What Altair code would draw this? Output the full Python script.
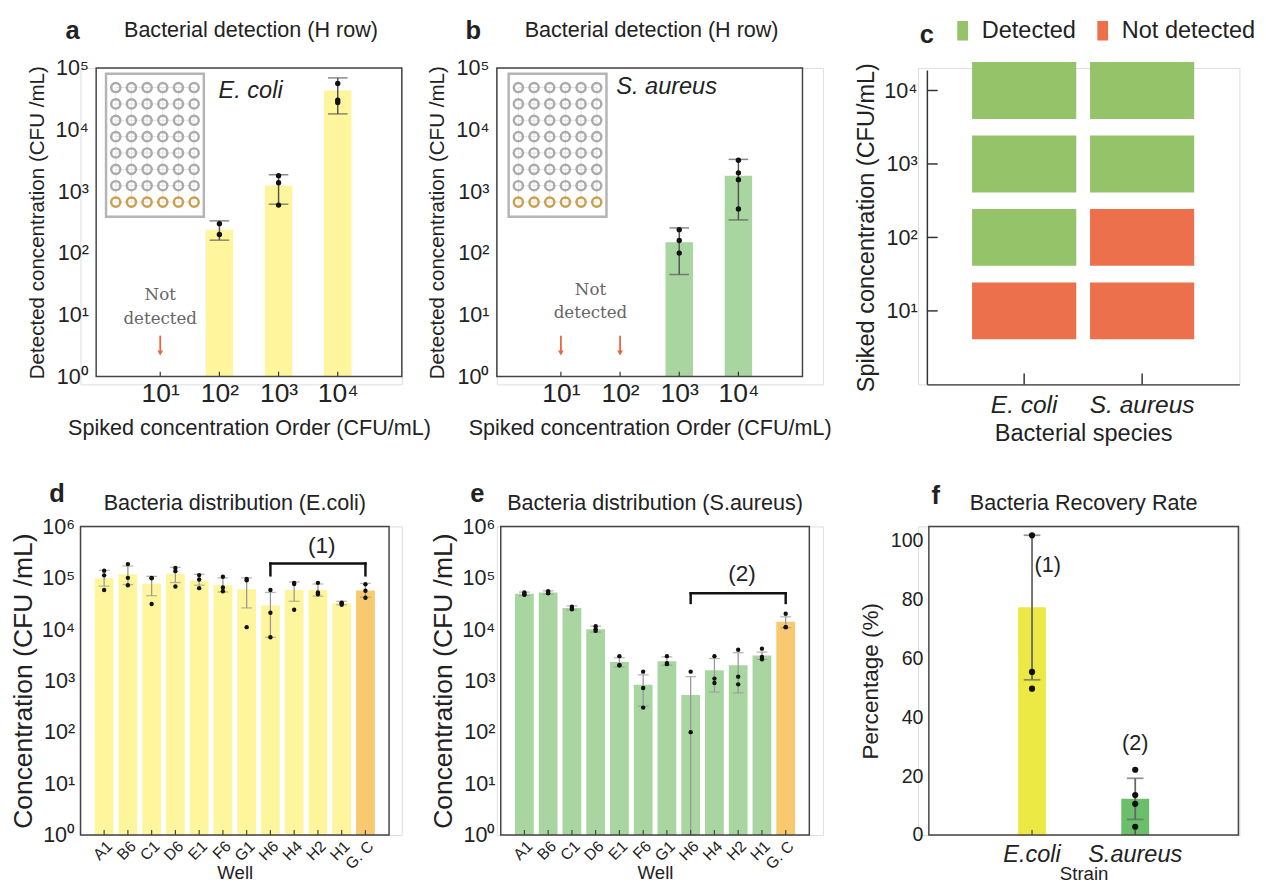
import altair as alt
import pandas as pd

SANS = "Liberation Sans"
SERIF = "DejaVu Serif"
INK = "#222222"
FRAME = "#444444"
SUPS = "['⁰','¹','²','³','⁴','⁵','⁶']"
LOG_LABEL = "'10' + " + SUPS + "[round(log(datum.value) / LN10)]"
EXP_LABEL = "'10' + " + SUPS + "[round(datum.value)]"

# ---------------- data: panels a / b ----------------
orders = [1, 2, 3, 4]
a_mean = [None, 240, 1250, 43000]
a_lo = [None, 162, 620, 18000]
a_hi = [None, 333, 1860, 69000]
a_pts_order = [2, 2, 3, 3, 3, 4, 4, 4]
a_pts_val = [300, 200, 1800, 1380, 600, 56000, 30000, 27500]
a_missing = [1]

b_mean = [None, None, 150, 1800]
b_lo = [None, None, 45, 345]
b_hi = [None, None, 256, 3300]
b_pts_order = [3, 3, 3, 4, 4, 4, 4]
b_pts_val = [240, 160, 100, 3200, 2000, 1550, 520]
b_missing = [1, 2]

# ---------------- data: panel c ----------------
species = ["E. coli", "S. aureus"]
status_levels = ["Detected", "Not detected"]
c_status_ecoli = ["Not detected", "Detected", "Detected", "Detected"]
c_status_saureus = ["Not detected", "Not detected", "Detected", "Detected"]

# ---------------- data: panels d / e ----------------
wells = ["A1", "B6", "C1", "D6", "E1", "F6", "G1", "H6", "H4", "H2", "H1", "G. C"]
well_kind = ["well"] * 11 + ["control"]
d_mean = [98000, 117000, 77000, 119000, 88000, 72000, 60000, 29000, 58000, 58000, 32000, 57000]
d_lo = [69000, 74000, 45000, 81000, 72000, 53000, 26000, 7000, 35000, 44000, 30000, 42000]
d_hi = [140000, 170000, 107000, 160000, 117000, 100000, 100000, 52000, 83000, 76000, 35000, 78000]
d_pts = [[138000, 112000, 58000], [185000, 100000, 72000], [100000, 98000, 31000],
         [155000, 135000, 68000], [113000, 93000, 63000], [105000, 65000, 55000],
         [95000, 90000, 11000], [58000, 21000, 7000], [80000, 76000, 24000],
         [80000, 52000, 48000], [33000, 32000, 30000], [75000, 56000, 41000]]

e_mean = [49000, 52000, 26000, 10000, 2300, 830, 2400, 530, 1600, 2000, 3100, 14000]
e_lo = [45000, 48000, 23500, 8800, 1850, 320, 2000, 1, 600, 580, 2600, 10700]
e_hi = [53000, 56000, 28500, 11500, 2800, 1300, 2900, 1200, 2700, 3500, 3600, 17500]
e_pts = [[52000, 48000, 47000], [55000, 51000, 50000], [27500, 26000, 24500],
         [11500, 10000, 9300], [3000, 2000, 2000], [1500, 720, 300],
         [3000, 2200, 2100], [1500, 100], [3000, 1100, 900],
         [4000, 1200, 850], [4200, 2900, 2600], [20000, 11000, 11000]]

# ---------------- data: panel f ----------------
strains = ["E.coli", "S.aureus"]
f_mean = [77.5, 12.3]
f_lo = [52.8, 5.3]
f_hi = [102, 19.3]
f_pts = [[102, 55.5, 49.8], [22.2, 13.6, 10.6, 2.8]]

# ---------------- styles ----------------
YELLOW = "#fff59d"
GREEN_B = "#a8d5a0"
ORANGE = "#f8c96e"
C_GREEN = "#95c36a"
C_RED = "#ec704c"
F_COLORS = {"E.coli": "#ece944", "S.aureus": "#6cbf6a"}
ARROW = "#e9653f"


def txt(s, x, y, size, weight="normal", style="normal", align="center",
        font=SANS, color=INK):
    return alt.Chart(pd.DataFrame({"label": [s]})).mark_text(
        font=font, fontSize=size, fontWeight=weight, fontStyle=style,
        align=align, baseline="middle", color=color
    ).encode(text="label:N", x=alt.value(x), y=alt.value(y))


def frame(x0, x1, h, color=FRAME):
    return alt.Chart(pd.DataFrame({"f": [0]})).mark_rect(
        fillOpacity=0, stroke=color, strokeWidth=1.5
    ).encode(x=alt.value(x0), x2=alt.value(x1), y=alt.value(0), y2=alt.value(h))


def inset(L, W, H, dx):
    rows = list(range(8))
    cols = list(range(6))
    grid = pd.DataFrame([(r, c) for r in rows for c in cols], columns=["row", "col"])
    grid["ring"] = ["#c9a050" if r == rows[-1] else "#ababab" for r in grid["row"]]
    ix = alt.Scale(domain=[-(20 + dx) / 16, -(20 + dx) / 16 + W / 16], range=[L, L + W],
                   nice=False, zero=False)
    iy = alt.Scale(domain=[-20 / 16.7, -20 / 16.7 + H / 16.7], range=[0, H], nice=False, zero=False)
    box = pd.DataFrame({"x1": [cols[0] - 0.62], "x2": [cols[-1] + 0.62],
                        "y1": [rows[0] - 0.84], "y2": [rows[-1] + 0.9]})
    fr = alt.Chart(box).mark_rect(fill="white", stroke="#b4b4b4", strokeWidth=2.5).encode(
        x=alt.X("x1:Q", scale=ix, axis=None), x2="x2:Q",
        y=alt.Y("y1:Q", scale=iy, axis=None), y2="y2:Q")
    hl = pd.DataFrame({"row": rows, "c0": cols[0], "c1": cols[-1]})
    hlines = alt.Chart(hl).mark_rule(color="#e0e0e0", strokeWidth=1).encode(
        x=alt.X("c0:Q", scale=ix, axis=None), x2="c1:Q",
        y=alt.Y("row:Q", scale=iy, axis=None))
    vl = pd.DataFrame({"col": cols, "r0": rows[0], "r1": rows[-1]})
    vlines = alt.Chart(vl).mark_rule(color="#e6e6e6", strokeWidth=1).encode(
        x=alt.X("col:Q", scale=ix, axis=None),
        y=alt.Y("r0:Q", scale=iy, axis=None), y2="r1:Q")
    rings = alt.Chart(grid).mark_point(filled=False, size=88, strokeWidth=2.5, opacity=1).encode(
        x=alt.X("col:Q", scale=ix, axis=None),
        y=alt.Y("row:Q", scale=iy, axis=None),
        color=alt.Color("ring:N", scale=None))
    return alt.layer(fr, hlines, vlines, rings)


def detection_panel(letter, L, VW, VH, mean, lo, hi, p_order, p_val, missing, note_x, note_y,
                    bar_color, sp_label, sp_x, sp_y, inset_dx):
    W, H = 312, 315
    df = pd.DataFrame({"order": orders, "mean": mean, "lo": lo, "hi": hi}).dropna()
    df["base"] = 1.0
    xs = alt.Scale(domain=[0, 5], range=[L, L + W], nice=False, zero=False)
    ys = alt.Scale(type="log", domain=[1, 1e5], range=[H, 0], nice=False)
    xax = alt.Axis(values=orders, labelExpr=EXP_LABEL, labelFont=SANS, labelFontSize=27,
                   labelColor=INK, labelPadding=5, ticks=False, domain=False, grid=False,
                   offset=-(VH - H),
                   title="Spiked concentration Order (CFU/mL)", titleFont=SANS,
                   titleFontSize=22, titleFontWeight="normal", titleColor=INK,
                   titleX=L + W / 2, titleY=59, titleBaseline="alphabetic")
    yax = alt.Axis(values=[1, 10, 100, 1000, 10000, 100000], labelExpr=LOG_LABEL,
                   labelFont=SANS, labelFontSize=22, labelColor=INK, labelPadding=8,
                   ticks=False, domain=False, grid=False, offset=-L,
                   title="Detected concentration (CFU /mL)", titleFont=SANS,
                   titleFontSize=21, titleFontWeight="normal", titleColor=INK, titlePadding=8)
    X = alt.X("order:Q", scale=xs, axis=xax)

    def Y(f):
        return alt.Y(f, scale=ys, axis=yax)

    base = alt.Chart(df)
    bars = base.mark_bar(size=28, color=bar_color).encode(x=X, y=Y("mean:Q"), y2="base:Q")
    err = base.mark_rule(color="#555", strokeWidth=1.5).encode(x=X, y=Y("lo:Q"), y2="hi:Q")
    cap_hi = base.mark_tick(orient="horizontal", size=20, thickness=1.5, color="#555").encode(x=X, y=Y("hi:Q"))
    cap_lo = base.mark_tick(orient="horizontal", size=20, thickness=1.5, color="#555").encode(x=X, y=Y("lo:Q"))
    pts = alt.Chart(pd.DataFrame({"order": p_order, "v": p_val})).mark_circle(
        size=30, color="#111", opacity=1).encode(x=X, y=Y("v:Q"))
    xt = alt.Chart(pd.DataFrame({"order": orders})).mark_rule(color="#333", strokeWidth=1.2).encode(
        x=X, y=alt.value(H), y2=alt.value(H - 5))
    mdf = pd.DataFrame({"order": missing, "top": 4.6, "end": 2.6, "head": 2.4})
    a_line = alt.Chart(mdf).mark_rule(color=ARROW, strokeWidth=1.8).encode(
        x=X, y=Y("top:Q"), y2="end:Q")
    a_head = alt.Chart(mdf).mark_point(shape="triangle-down", filled=True, size=34,
                                       color=ARROW, opacity=1).encode(x=X, y=Y("head:Q"))
    ndf = pd.DataFrame({"order": [note_x, note_x], "v": note_y, "t": ["Not", "detected"]})
    note = alt.Chart(ndf).mark_text(font=SERIF, fontSize=17, color="#666").encode(
        x=X, y=Y("v:Q"), text="t:N")
    sp = txt(sp_label, L + sp_x, sp_y, 24, style="italic", align="left")
    title = txt("Bacterial detection (H row)", L + W / 2 + 2, -39, 22)
    let = txt(letter, L - 24, -38, 26, weight="bold")
    main = alt.layer(bars, err, cap_hi, cap_lo, pts, xt, a_line, a_head, note, sp, title, let,
                     frame(L, L + W, H))
    return alt.layer(main, inset(L, W, H, inset_dx)).resolve_scale(
        x="independent", y="independent").properties(width=VW, height=VH)


def species_panel(L, VW):
    W, H = 319, 323
    TOP = 2
    CELL_HALF = 0.387
    rows = []
    for sp, sts in zip(species, [c_status_ecoli, c_status_saureus]):
        for o, s in zip(orders, sts):
            rows.append({"species": sp, "order": o, "status": s})
    df = pd.DataFrame(rows)
    df["lo"] = df["order"] - CELL_HALF
    df["hi"] = df["order"] + CELL_HALF
    cx = alt.Scale(domain=species, range=[L, L + W], paddingInner=0.117, paddingOuter=0.383)
    cy = alt.Scale(domain=[0, 4.28], range=[H, TOP], nice=False, zero=False)
    cscale = alt.Scale(domain=status_levels, range=[C_GREEN, C_RED])
    cxax = alt.Axis(labelFont=SANS, labelFontSize=25, labelFontStyle="italic", labelColor=INK,
                    labelAngle=0, labelPadding=9, ticks=False, domainColor="#333", domainWidth=1.5,
                    title="Bacterial species", titleFont=SANS, titleFontSize=24,
                    titleFontWeight="normal", titleColor=INK, titlePadding=4,
                    titleX=L + W / 2)
    cyax = alt.Axis(values=orders, labelExpr=EXP_LABEL, labelFont=SANS, labelFontSize=22,
                    labelColor=INK, labelPadding=10, ticks=False, grid=False,
                    domainColor="#333", domainWidth=1.5, offset=-L,
                    title="Spiked concentration (CFU/mL)", titleFont=SANS, titleFontSize=24,
                    titleFontWeight="normal", titleColor=INK, titlePadding=6)
    rects = alt.Chart(df).mark_rect().encode(
        x=alt.X("species:N", scale=cx, axis=cxax),
        y=alt.Y("lo:Q", scale=cy, axis=cyax), y2="hi:Q",
        color=alt.Color("status:N", scale=cscale, legend=None))
    yt = alt.Chart(pd.DataFrame({"order": orders})).mark_rule(color="#333", strokeWidth=1.5).encode(
        x=alt.value(L), x2=alt.value(L + 11), y=alt.Y("order:Q", scale=cy, axis=cyax))
    xt = alt.Chart(pd.DataFrame({"species": species})).mark_rule(color="#333", strokeWidth=1.5).encode(
        x=alt.X("species:N", scale=cx, axis=cxax), y=alt.value(H), y2=alt.value(H - 11))
    # legend keys (swatch + label) placed above the panel
    keys = []
    for status, sx in zip(status_levels, [31, 174]):
        sw = alt.Chart(pd.DataFrame({"status": [status]})).mark_rect().encode(
            x=alt.value(L + sx), x2=alt.value(L + sx + 11), y=alt.value(-48), y2=alt.value(-28),
            color=alt.Color("status:N", scale=cscale, legend=None))
        keys.append(sw)
        keys.append(txt(status, L + sx + 25, -38, 24, align="left"))
    let = txt("c", L, -33, 26, weight="bold")
    return alt.layer(rects, yt, xt, *keys, let).properties(width=VW, height=H)


def distribution_panel(letter, L, VW, title_txt, mean, lo, hi, pts, bar_color, br_top, br_drop,
                       note, note_y):
    W, H = 315, 315
    colors = [bar_color if k == "well" else ORANGE for k in well_kind]
    df = pd.DataFrame({"well": wells, "mean": mean, "lo": lo, "hi": hi, "col": colors})
    df["base"] = 1.0
    xs = alt.Scale(domain=wells, range=[L, L + W], paddingInner=0.21, paddingOuter=0.6)
    ys = alt.Scale(type="log", domain=[1, 1e6], nice=False)
    xax = alt.Axis(labelFont=SANS, labelFontSize=16, labelColor=INK, labelAngle=-45,
                   labelPadding=3, ticks=False, domain=False, grid=False,
                   title="Well", titleFont=SANS, titleFontSize=19, titleFontWeight="normal",
                   titleColor=INK, titleX=L + W / 2, titleY=44, titleBaseline="alphabetic")
    yax = alt.Axis(values=[1, 10, 100, 1000, 1e4, 1e5, 1e6], labelExpr=LOG_LABEL,
                   labelFont=SANS, labelFontSize=22, labelColor=INK, labelPadding=6,
                   ticks=False, domain=False, grid=False, offset=-L,
                   title="Concentration (CFU /mL)", titleFont=SANS, titleFontSize=27,
                   titleFontWeight="normal", titleColor=INK, titlePadding=4)
    X = alt.X("well:N", scale=xs, axis=xax, sort=wells)

    def Y(f):
        return alt.Y(f, scale=ys, axis=yax)

    base = alt.Chart(df)
    bars = base.mark_bar().encode(x=X, y=Y("mean:Q"), y2="base:Q", color=alt.Color("col:N", scale=None))
    err = base.mark_rule(color="#999", strokeWidth=1.3, clip=True).encode(x=X, y=Y("lo:Q"), y2="hi:Q")
    cap_hi = base.mark_tick(size=11, thickness=1.3, color="#999").encode(x=X, y=Y("hi:Q"))
    cap_lo = base.mark_tick(size=11, thickness=1.3, color="#999").encode(x=X, y=Y("lo:Q"))
    prow = [(w, v) for w, vs in zip(wells, pts) for v in vs]
    pdf = pd.DataFrame(prow, columns=["well", "v"])
    points = alt.Chart(pdf).mark_circle(size=20, color="#111", opacity=1).encode(x=X, y=Y("v:Q"))
    xt = alt.Chart(pd.DataFrame({"well": wells})).mark_rule(color="#444", strokeWidth=1.2).encode(
        x=X, y=alt.value(H), y2=alt.value(H - 5))
    bdf = pd.DataFrame({"w1": ["H6"], "w2": ["G. C"], "top": [br_top], "drop": [br_drop]})
    b_h = alt.Chart(bdf).mark_rule(color="#111", strokeWidth=2.5, strokeCap="square").encode(
        x=alt.X("w1:N", scale=xs, axis=xax), x2="w2:N", y=Y("top:Q"))
    b_l = alt.Chart(bdf).mark_rule(color="#111", strokeWidth=2.5, strokeCap="square").encode(
        x=alt.X("w1:N", scale=xs, axis=xax), y=Y("top:Q"), y2="drop:Q")
    b_r = alt.Chart(bdf).mark_rule(color="#111", strokeWidth=2.5, strokeCap="square").encode(
        x=alt.X("w2:N", scale=xs, axis=xax), y=Y("top:Q"), y2="drop:Q")
    ldf = pd.DataFrame({"well": ["H2"], "v": [note_y], "t": [note]})
    lab = alt.Chart(ldf).mark_text(font=SANS, fontSize=23, color=INK, dx=4).encode(
        x=X, y=Y("v:Q"), text="t:N")
    title = txt(title_txt, L + W / 2, -24, 22)
    let = txt(letter, L - 24, -33, 26, weight="bold")
    return alt.layer(bars, err, cap_hi, cap_lo, points, xt, b_h, b_l, b_r, lab, title, let,
                     frame(L, L + W, H)).properties(width=VW, height=H)


def recovery_panel(L, VW):
    W, H = 316, 315
    df = pd.DataFrame({"strain": strains, "mean": f_mean, "lo": f_lo, "hi": f_hi,
                       "col": [F_COLORS[s] for s in strains]})
    xs = alt.Scale(domain=strains, range=[L, L + W], paddingInner=0.73, paddingOuter=0.865)
    ys = alt.Scale(domain=[0, 105], nice=False, zero=True)
    xax = alt.Axis(labelFont=SANS, labelFontSize=24, labelFontStyle="italic", labelColor=INK,
                   labelAngle=0, labelPadding=8, ticks=False, domain=False, grid=False,
                   title="Strain", titleFont=SANS, titleFontSize=19, titleFontWeight="normal",
                   titleColor=INK, titleX=L + W / 2, titleY=45, titleBaseline="alphabetic")
    yax = alt.Axis(values=[0, 20, 40, 60, 80, 100], labelFont=SANS, labelFontSize=20,
                   labelColor=INK, labelPadding=6, ticks=False, domain=False, grid=False,
                   offset=-L, title="Percentage (%)", titleFont=SANS, titleFontSize=23,
                   titleFontWeight="normal", titleColor=INK, titlePadding=8)
    X = alt.X("strain:N", scale=xs, axis=xax, sort=strains)

    def Y(f):
        return alt.Y(f, scale=ys, axis=yax)

    base = alt.Chart(df)
    bars = base.mark_bar().encode(x=X, y=Y("mean:Q"), color=alt.Color("col:N", scale=None))
    err = base.mark_rule(color="#666", strokeWidth=1.8).encode(x=X, y=Y("lo:Q"), y2="hi:Q")
    cap_hi = base.mark_tick(size=17, thickness=1.8, color="#666").encode(x=X, y=Y("hi:Q"))
    cap_lo = base.mark_tick(size=17, thickness=1.8, color="#666").encode(x=X, y=Y("lo:Q"))
    prow = [(s, v) for s, vs in zip(strains, f_pts) for v in vs]
    points = alt.Chart(pd.DataFrame(prow, columns=["strain", "v"])).mark_circle(
        size=40, color="#111", opacity=1).encode(x=X, y=Y("v:Q"))
    xt = alt.Chart(pd.DataFrame({"strain": strains})).mark_rule(color="#444", strokeWidth=1.2).encode(
        x=X, y=alt.value(H), y2=alt.value(H - 5))
    ldf = pd.DataFrame({"strain": strains, "v": [91.7, 31.3], "t": ["(1)", "(2)"]})
    lab1 = alt.Chart(ldf.iloc[[0]]).mark_text(font=SANS, fontSize=22, color=INK, dx=16).encode(
        x=X, y=Y("v:Q"), text="t:N")
    lab2 = alt.Chart(ldf.iloc[[1]]).mark_text(font=SANS, fontSize=22, color=INK).encode(
        x=X, y=Y("v:Q"), text="t:N")
    title = txt("Bacteria Recovery Rate", L + W / 2, -24, 22)
    let = txt("f", L + 7, -31, 26, weight="bold")
    return alt.layer(bars, err, cap_hi, cap_lo, points, xt, lab1, lab2, title, let,
                     frame(L, L + W, H)).properties(width=VW, height=H)


COL_W = [328, 333, 328]
ROW1_H = 323

pa = detection_panel("a", 16, COL_W[0], ROW1_H, a_mean, a_lo, a_hi, a_pts_order, a_pts_val,
                     a_missing, 1, [20.8, 8.6], YELLOW, "E. coli", 125, 24, 0)
pb = detection_panel("b", 0, COL_W[1], ROW1_H, b_mean, b_lo, b_hi, b_pts_order, b_pts_val,
                     b_missing, 1.5, [25, 10.8], GREEN_B, "S. aureus", 122, 20, 2)
pc = species_panel(9, COL_W[2])
pd_ = distribution_panel("d", 0, COL_W[0], "Bacteria distribution (E.coli)", d_mean, d_lo, d_hi,
                         d_pts, YELLOW, 1.9e5, 1.12e5, "(1)", 4.2e5)
pe = distribution_panel("e", 4, COL_W[1], "Bacteria distribution (S.aureus)", e_mean, e_lo, e_hi,
                        e_pts, GREEN_B, 5.0e4, 3.25e4, "(2)", 1.2e5)
pf = recovery_panel(11, COL_W[2])

chart = alt.concat(pa, pb, pc, pd_, pe, pf, columns=3,
                   spacing={"row": 145, "column": 97}, bounds="flush", align="each").properties(
    padding={"left": 1, "top": 0, "right": 2, "bottom": 0}
).configure_view(strokeWidth=0).configure(font=SANS)

chart.save("out.html", embed_options={"renderer": "svg", "actions": False})
